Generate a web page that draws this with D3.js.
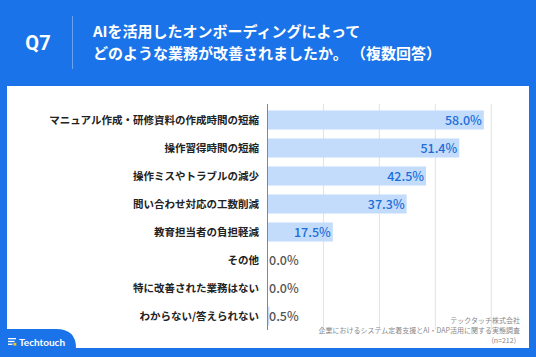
<!DOCTYPE html>
<html><head><meta charset="utf-8">
<script src="https://cdn.jsdelivr.net/npm/d3@7"></script>
<style>
html,body{margin:0;padding:0;background:#1a73e8;}
svg{display:block;font-family:"Noto Sans CJK JP","Noto Sans",sans-serif;}
</style></head><body>
<svg id="c" width="536" height="357"></svg>
<script>
const categories = [
  "マニュアル作成・研修資料の作成時間の短縮",
  "操作習得時間の短縮",
  "操作ミスやトラブルの減少",
  "問い合わせ対応の工数削減",
  "教育担当者の負担軽減",
  "その他",
  "特に改善された業務はない",
  "わからない/答えられない"
];
const values = [58.0, 51.4, 42.5, 37.3, 17.5, 0.0, 0.0, 0.5];
const gridTicks = [15, 30, 45, 60];
const titleLines = ["AIを活用したオンボーディングによって", "どのような業務が改善されましたか。 （複数回答）"];
const sourceLines = ["テックタッチ株式会社", "企業におけるシステム定着支援とAI・DAP活用に関する実態調査", "(n=212)"];

const svg = d3.select("#c");
const blue = "#1a73e8";
svg.append("rect").attr("width",536).attr("height",357).attr("fill",blue);
// panel
svg.append("rect").attr("x",7).attr("y",86).attr("width",522).attr("height",262).attr("fill","#fff");
// header
svg.append("text").attr("x",38).attr("y",50).attr("text-anchor","middle").attr("fill","#fff")
  .attr("font-size",20).attr("font-weight",700).attr("font-family","Roboto,'Noto Sans',sans-serif").text("Q7");
svg.append("line").attr("x1",72.5).attr("x2",72.5).attr("y1",16).attr("y2",69).attr("stroke","rgba(255,255,255,0.35)").attr("stroke-width",1);
svg.selectAll("text.title").data(titleLines).join("text").attr("class","title")
  .attr("x",93).attr("y",(d,i)=>37+i*22).attr("fill","#fff").attr("font-size",15).attr("font-weight",700)
  .attr("xml:space","preserve").style("white-space","pre").text(d=>d);

const x = d3.scaleLinear().domain([0,70]).range([267.5,528.6]);
const y = d3.scaleBand().domain(categories).range([106,330]).paddingInner(0.32).paddingOuter(0.16);

// gridlines
svg.append("g").selectAll("line").data(gridTicks).join("line")
  .attr("x1",d=>x(d)).attr("x2",d=>x(d)).attr("y1",104).attr("y2",330)
  .attr("stroke","#e2e2e2").attr("stroke-width",1);

// bars
svg.append("g").selectAll("rect").data(values).join("rect")
  .attr("x",x(0)).attr("y",(d,i)=>y(categories[i])).attr("width",d=>x(d)-x(0)).attr("height",y.bandwidth())
  .attr("fill","#c4dcfb");

// axis line
svg.append("line").attr("x1",x(0)).attr("x2",x(0)).attr("y1",104).attr("y2",330).attr("stroke","#888").attr("stroke-width",1);

// category labels
svg.append("g").selectAll("text").data(categories).join("text")
  .attr("x",259).attr("y",d=>y(d)+y.bandwidth()/2).attr("dy","0.36em").attr("text-anchor","end")
  .attr("font-size",10.5).attr("font-weight",700).attr("fill","#222").text(d=>d);

// value labels
svg.append("g").selectAll("text").data(values).join("text")
  .attr("x",d=> d>=5 ? x(d)-2 : x(0)+1.5)
  .attr("y",(d,i)=>y(categories[i])+y.bandwidth()/2).attr("dy","0.36em")
  .attr("text-anchor",d=> d>=5 ? "end" : "start")
  .attr("font-size",12.5).attr("font-weight",500)
  .attr("fill",d=> d>=5 ? "#1c6ed8" : "#555")
  .text(d=>d.toFixed(1)+"%");

// source
svg.selectAll("text.src").data(sourceLines).join("text").attr("class","src")
  .attr("x",(d,i)=> i==2 ? 516 : 520).attr("y",(d,i)=>323+i*10).attr("text-anchor","end")
  .attr("font-size",7).attr("fill","#888").text(d=>d);

// bottom-left tab
svg.append("path").attr("d","M0,329 L56,329 Q76,329 76,348 L76,357 L0,357 Z").attr("fill",blue);
// logo icon
const ic = svg.append("g").attr("transform","translate(8,338)");
ic.append("rect").attr("x",0).attr("y",0).attr("width",8).attr("height",1.3).attr("fill","#fff");
ic.append("rect").attr("x",0).attr("y",2.8).attr("width",6.5).attr("height",1.3).attr("fill","#fff");
ic.append("rect").attr("x",0).attr("y",5.6).attr("width",4.5).attr("height",1.3).attr("fill","#fff");
ic.append("rect").attr("x",5.5).attr("y",4.8).attr("width",2.8).attr("height",2.8).attr("fill","#f5c518");
svg.append("text").attr("x",19).attr("y",346).attr("fill","#fff").attr("font-size",10).attr("font-weight",700)
  .attr("font-family","Lato,'Noto Sans',sans-serif").text("Techtouch");
</script>
</body></html>
